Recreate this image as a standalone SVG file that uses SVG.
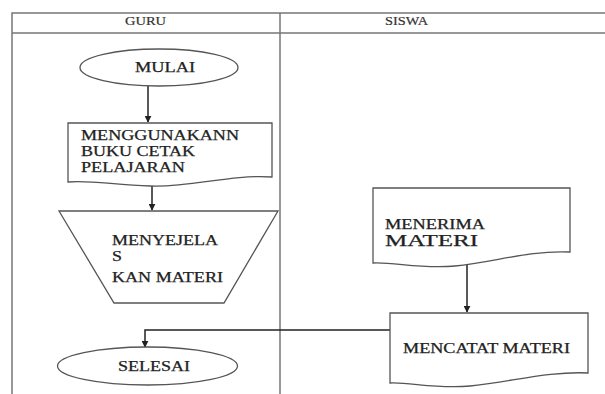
<svg xmlns="http://www.w3.org/2000/svg" width="605" height="394" viewBox="0 0 605 394">
<defs>
<style>
.lane{fill:none;stroke:#777;stroke-width:1.5}
.shape{fill:#fff;stroke:#555;stroke-width:1.3}
.t{font-family:"Liberation Serif","Times New Roman",serif;fill:#222;font-size:14px;stroke:#222;stroke-width:0.25}
.h{font-family:"Liberation Serif","Times New Roman",serif;fill:#333;font-size:12px;stroke:#333;stroke-width:0.2}
.conn{fill:none;stroke:#222;stroke-width:1.5}
</style>
<marker id="arr" viewBox="0 0 10 10" refX="9" refY="5" markerWidth="7" markerHeight="7" orient="auto" markerUnits="userSpaceOnUse">
<path d="M0,0 L10,5 L0,10 z" fill="#222"/>
</marker>
</defs>
<rect width="605" height="394" fill="#fff"/>
<g id="lanes">
<path class="lane" d="M12,394 V13 H605 M12,33 H605 M280,13 V394"/>
<text class="h" x="125" y="25" textLength="41" lengthAdjust="spacingAndGlyphs">GURU</text>
<text class="h" x="385" y="25" textLength="43" lengthAdjust="spacingAndGlyphs">SISWA</text>
</g>
<g id="connectors">
<line class="conn" x1="148" y1="86" x2="148" y2="122" marker-end="url(#arr)"/>
<line class="conn" x1="152" y1="186" x2="152" y2="210" marker-end="url(#arr)"/>
<line class="conn" x1="467" y1="264" x2="467" y2="312" marker-end="url(#arr)"/>
<path class="conn" d="M390,330 H145 V347" marker-end="url(#arr)"/>
</g>
<g id="mulai">
<ellipse class="shape" cx="159" cy="67.5" rx="79" ry="18.5"/>
<text class="t" x="135" y="71.5" textLength="60" lengthAdjust="spacingAndGlyphs">MULAI</text>
</g>
<g id="buku">
<path class="shape" d="M68,123 H272 V177 C230,174 190,188 150,186 C115,185 90,180 68,182 Z"/>
<text class="t" x="81" y="140" textLength="158" lengthAdjust="spacingAndGlyphs">MENGGUNAKANN</text>
<text class="t" x="81" y="156" textLength="114" lengthAdjust="spacingAndGlyphs">BUKU CETAK</text>
<text class="t" x="81" y="172" textLength="104" lengthAdjust="spacingAndGlyphs">PELAJARAN</text>
</g>
<g id="menjelaskan">
<path class="shape" d="M59,211 H278 L224,303 H114 Z"/>
<text class="t" x="112" y="245" textLength="106" lengthAdjust="spacingAndGlyphs">MENYEJELA</text>
<text class="t" x="112" y="261" textLength="10" lengthAdjust="spacingAndGlyphs">S</text>
<text class="t" x="112" y="282" textLength="111" lengthAdjust="spacingAndGlyphs">KAN MATERI</text>
</g>
<g id="selesai">
<ellipse class="shape" cx="147.5" cy="366" rx="90" ry="19"/>
<text class="t" x="118" y="371" textLength="72" lengthAdjust="spacingAndGlyphs">SELESAI</text>
</g>
<g id="menerima">
<path class="shape" d="M373,188 H570 V252 C530,250 495,262 455,266 C420,269 395,262 373,263 Z"/>
<text class="t" x="385" y="229" textLength="100" lengthAdjust="spacingAndGlyphs">MENERIMA</text>
<text class="t" x="385" y="246" style="font-size:17px" textLength="93" lengthAdjust="spacingAndGlyphs">MATERI</text>
</g>
<g id="mencatat">
<path class="shape" d="M390,313 H588 V373 C550,371 510,382 470,386 C435,389 410,382 390,383 Z"/>
<text class="t" x="403" y="353" textLength="167" lengthAdjust="spacingAndGlyphs">MENCATAT MATERI</text>
</g>
</svg>
